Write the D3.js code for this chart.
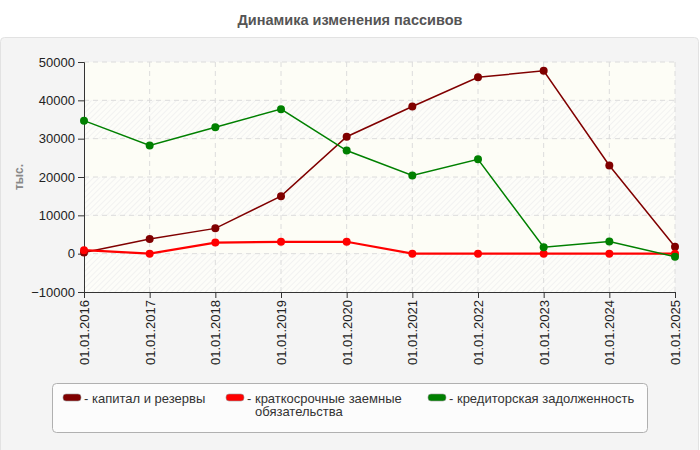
<!DOCTYPE html>
<html>
<head>
<meta charset="utf-8">
<script src="https://cdn.jsdelivr.net/npm/d3@7"></script>
<style>
  body { margin: 0; background: #fff; }
  svg { display: block; font-family: "Liberation Sans", Arial, sans-serif; }
</style>
</head>
<body>
<div id="chart"></div>
<script>
// данные
const years = ["01.01.2016", "01.01.2017", "01.01.2018", "01.01.2019", "01.01.2020",
               "01.01.2021", "01.01.2022", "01.01.2023", "01.01.2024", "01.01.2025"];
const capital = [300, 3800, 6600, 15000, 30500, 38400, 46000, 47700, 23000, 1800];
const shortLoans = [900, 0, 2900, 3100, 3100, 0, 0, 0, 0, 0];
const payables = [34700, 28200, 33000, 37700, 26900, 20400, 24600, 1700, 3200, -800];
const yTicks = [-10000, 0, 10000, 20000, 30000, 40000, 50000];

const series = [
    { name: "капитал и резервы", values: capital, color: "#800000", width: 1.5 },
    { name: "краткосрочные заемные обязательства", values: shortLoans, color: "#ff0000", width: 2.2 },
    { name: "кредиторская задолженность", values: payables, color: "#008000", width: 1.5 }
];

const width = 700, height = 450;
const margin = { top: 62, right: 25, bottom: 158, left: 84 };
const innerW = width - margin.left - margin.right;
const innerH = height - margin.top - margin.bottom;

const svg = d3.select("#chart").append("svg")
    .attr("width", width)
    .attr("height", height);

// фон
svg.append("rect").attr("width", width).attr("height", height).attr("fill", "#fff");
svg.append("rect")
    .attr("x", 0.5).attr("y", 37.5)
    .attr("width", 698).attr("height", 420)
    .attr("rx", 4)
    .attr("fill", "#f4f4f4")
    .attr("stroke", "#e2e2e2");

// заголовок
svg.append("text")
    .attr("x", 350).attr("y", 25)
    .attr("text-anchor", "middle")
    .attr("font-size", 14.5)
    .attr("font-weight", "bold")
    .attr("fill", "#555")
    .text("Динамика изменения пассивов");

// штриховка
const defs = svg.append("defs");
const pat = defs.append("pattern")
    .attr("id", "hatch")
    .attr("patternUnits", "userSpaceOnUse")
    .attr("width", 4).attr("height", 4)
    .attr("patternTransform", "rotate(45)");
pat.append("rect").attr("width", 4).attr("height", 4).attr("fill", "#fdfdf9");
pat.append("line").attr("x1", 0).attr("y1", 0).attr("x2", 0).attr("y2", 4)
    .attr("stroke", "#ececec").attr("stroke-width", 1.2);

const g = svg.append("g")
    .attr("transform", `translate(${margin.left},${margin.top})`);

const x = d3.scalePoint().domain(years).range([0, innerW]);
const y = d3.scaleLinear().domain([-10000, 50000]).range([innerH, 0]);

// полосы фона
const bands = d3.pairs(yTicks);
g.selectAll(".band")
    .data(bands)
    .enter().append("rect")
    .attr("x", 0)
    .attr("width", innerW)
    .attr("y", d => y(d[1]))
    .attr("height", d => y(d[0]) - y(d[1]))
    .attr("fill", (d, i) => i % 2 === 0 ? "url(#hatch)" : "#fdfdf6");

// сетка
g.selectAll(".hgrid")
    .data(yTicks.slice(1))
    .enter().append("line")
    .attr("x1", 0).attr("x2", innerW)
    .attr("y1", d => y(d)).attr("y2", d => y(d))
    .attr("stroke", "#dcdcdc")
    .attr("stroke-dasharray", "5,4");

g.selectAll(".vgrid")
    .data(years.slice(1))
    .enter().append("line")
    .attr("x1", d => x(d)).attr("x2", d => x(d))
    .attr("y1", 0).attr("y2", innerH)
    .attr("stroke", "#dcdcdc")
    .attr("stroke-dasharray", "5,4");

// оси
const yAxis = g.append("g")
    .call(d3.axisLeft(y).tickValues(yTicks).tickFormat(d3.format("d")).tickSize(6).tickPadding(3));
yAxis.select(".domain").attr("stroke", "#333");
yAxis.selectAll(".tick line").attr("stroke", "#333");
yAxis.selectAll("text").attr("font-size", 13).attr("fill", "#222")
    .attr("font-family", "Liberation Sans, Arial, sans-serif");

const xAxis = g.append("g")
    .attr("transform", `translate(0,${innerH})`)
    .call(d3.axisBottom(x).tickSize(6).tickPadding(3));
xAxis.select(".domain").attr("stroke", "#333");
xAxis.selectAll(".tick line").attr("stroke", "#333");
xAxis.selectAll("text")
    .attr("font-size", 13).attr("fill", "#222")
    .attr("font-family", "Liberation Sans, Arial, sans-serif")
    .attr("transform", "rotate(-90)")
    .attr("text-anchor", "end")
    .attr("dy", "0.35em")
    .attr("x", -8)
    .attr("y", 0);

// подпись оси Y
svg.append("text")
    .attr("transform", "translate(23,177) rotate(-90)")
    .attr("text-anchor", "middle")
    .attr("font-size", 12)
    .attr("font-weight", "bold")
    .attr("fill", "#888")
    .text("тыс.");

// линии
const line = d3.line()
    .x((d, i) => x(years[i]))
    .y(d => y(d));

series.forEach(s => {
    g.append("path")
        .attr("fill", "none")
        .attr("stroke", s.color)
        .attr("stroke-width", s.width)
        .attr("d", line(s.values));
});
series.forEach(s => {
    g.selectAll(null)
        .data(s.values)
        .enter().append("circle")
        .attr("cx", (d, i) => x(years[i]))
        .attr("cy", d => y(d))
        .attr("r", 4)
        .attr("fill", s.color);
});

// легенда
const legend = svg.append("g");
legend.append("rect")
    .attr("x", 52.5).attr("y", 383.5)
    .attr("width", 595).attr("height", 49)
    .attr("rx", 4)
    .attr("fill", "#fcfcfc")
    .attr("stroke", "#b0b0b0");

const legendX = [63, 226, 428];
series.forEach((s, i) => {
    const item = legend.append("g").attr("transform", `translate(${legendX[i]},394)`);
    item.append("rect")
        .attr("width", 18).attr("height", 7)
        .attr("rx", 3)
        .attr("fill", s.color)
        .attr("stroke", "#999")
        .attr("stroke-width", 0.6);
    const words = i === 1 ? ["- краткосрочные заемные", "обязательства"] : ["- " + s.name];
    words.forEach((w, j) => {
        item.append("text")
            .attr("x", j === 0 ? 21 : 29)
            .attr("y", 8.5 + j * 13.5)
            .attr("font-size", 13)
            .attr("fill", "#333")
            .text(w);
    });
});
</script>
</body>
</html>
